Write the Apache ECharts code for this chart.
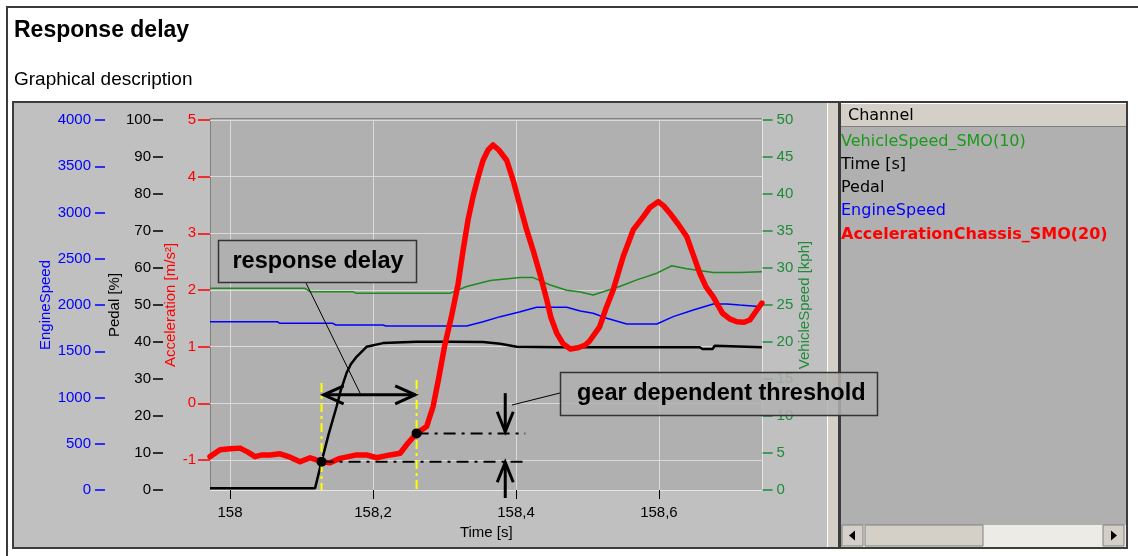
<!DOCTYPE html>
<html>
<head>
<meta charset="utf-8">
<script src="https://cdn.jsdelivr.net/npm/echarts@6/dist/echarts.min.js"></script>
<style>html,body{margin:0;padding:0;background:#fff}#c{width:1138px;height:556px}</style>
</head>
<body>
<div id="c"></div>
<script>
// ---------- DATA ----------
const timeTicks = [158, 158.2, 158.4, 158.6];
const accelTicks = [-1, 0, 1, 2, 3, 4, 5];
const channelNames = ['VehicleSpeed_SMO(10)', 'Time [s]', 'Pedal', 'EngineSpeed', 'AccelerationChassis_SMO(20)'];

const accelPoints = [
  [157.972,-0.94],[157.986,-0.82],[158.000,-0.80],[158.014,-0.79],[158.025,-0.86],[158.035,-0.94],
  [158.045,-0.91],[158.056,-0.91],[158.070,-0.89],[158.084,-0.95],[158.098,-1.03],[158.112,-0.96],
  [158.128,-1.03],[158.140,-1.05],[158.154,-0.97],[158.177,-0.91],[158.191,-0.91],[158.205,-0.96],
  [158.224,-0.91],[158.238,-0.88],[158.249,-0.70],[158.261,-0.53],[158.275,-0.41],[158.284,-0.06],
  [158.292,0.45],[158.300,1.00],[158.310,1.55],[158.319,2.10],[158.326,2.70],[158.333,3.24],
  [158.340,3.65],[158.347,3.99],[158.354,4.29],[158.361,4.47],[158.368,4.56],[158.376,4.47],
  [158.387,4.29],[158.396,3.94],[158.406,3.47],[158.415,3.06],[158.424,2.70],[158.434,2.26],
  [158.443,1.83],[158.449,1.51],[158.457,1.24],[158.466,1.05],[158.476,0.96],[158.487,0.98],
  [158.497,1.03],[158.503,1.10],[158.517,1.35],[158.526,1.68],[158.536,2.00],[158.550,2.59],
  [158.564,3.06],[158.578,3.29],[158.587,3.45],[158.599,3.56],[158.607,3.48],[158.615,3.36],
  [158.627,3.16],[158.639,2.94],[158.648,2.62],[158.657,2.30],[158.666,2.05],[158.676,1.88],
  [158.683,1.72],[158.689,1.59],[158.699,1.49],[158.709,1.44],[158.719,1.43],[158.727,1.47],
  [158.736,1.63],[158.744,1.77]
];

const pedalPoints = [
  [157.972,0.5],[158.119,0.5],[158.128,7.6],[158.138,15.1],[158.149,22.5],[158.155,27.0],
  [158.163,31.6],[158.169,34.0],[158.177,36.0],[158.191,38.7],[158.214,39.7],[158.261,40.1],
  [158.308,40.1],[158.354,40.0],[158.378,39.5],[158.401,38.7],[158.462,38.6],[158.657,38.6],
  [158.661,38.1],[158.675,38.1],[158.678,39.0],[158.744,38.6]
];

const enginePoints = [
  [157.972,1819],[158.066,1819],[158.070,1802],[158.144,1802],[158.148,1784],[158.214,1784],
  [158.218,1773],[158.331,1773],[158.354,1819],[158.378,1874],[158.406,1928],[158.429,1975],
  [158.471,1975],[158.490,1935],[158.508,1910],[158.527,1856],[158.555,1795],[158.597,1795],
  [158.620,1874],[158.648,1946],[158.676,2011],[158.695,2011],[158.713,2000],[158.744,1982]
];

const speedPoints = [
  [157.972,27.26],[158.105,27.26],[158.112,26.8],[158.172,26.8],[158.176,26.6],[158.308,26.6],
  [158.331,27.5],[158.364,28.3],[158.406,28.7],[158.424,28.7],[158.448,27.7],[158.471,27.0],
  [158.490,26.75],[158.508,26.35],[158.522,26.8],[158.545,27.5],[158.569,28.4],[158.597,29.3],
  [158.618,30.3],[158.639,29.9],[158.676,29.4],[158.713,29.4],[158.744,29.5]
];

// annotation values (data units: time [s], acceleration [m/s²])
const delayTimes = [158.128, 158.261];
const delayLevels = [-1.03, -0.53];
const yellowTops = [0.36, 0.41];
const delayArrowLevel = 0.15;
const delayArrowSpan = [158.131, 158.259];
const thresholdLineEnd = 158.413;
const thresholdArrowTime = 158.385;
const downArrow = [0.18, -0.5];
const upArrow = [-1.67, -1.04];

// ---------- CHART ----------
const FONT = '"Liberation Sans", Arial, sans-serif';
const LISTFONT = '"DejaVu Sans", Verdana, sans-serif';
const RED = '#ff0000', BLUE = '#0000ff', GREEN = '#1f8a3a', LINEGREEN = '#1e8a1e';
const chart = echarts.init(document.getElementById('c'), null, {renderer: 'canvas'});

function arrowHead(tip, dir, len, half) {
  const bx = tip[0] - dir[0] * len, by = tip[1] - dir[1] * len;
  const nx = -dir[1], ny = dir[0];
  return {
    type: 'polyline',
    shape: {points: [[bx + nx * half, by + ny * half], tip, [bx - nx * half, by - ny * half]]},
    style: {stroke: '#000', lineWidth: 3, fill: null, lineJoin: 'miter'}
  };
}

function renderAnnotations(params, api) {
  const c = (t, v) => api.coord([t, v]);
  const ch = [];
  const accMin = -1.529;
  delayTimes.forEach((t, i) => {
    const p1 = c(t, yellowTops[i]), p2 = c(t, accMin);
    ch.push({type: 'line', shape: {x1: p1[0], y1: p1[1], x2: p2[0], y2: p2[1]},
      style: {stroke: '#ffff00', lineWidth: 2, lineDash: [9, 4, 3, 4]}});
  });
  delayTimes.forEach((t, i) => {
    const p1 = c(t, delayLevels[i]), p2 = c(thresholdLineEnd, delayLevels[i]);
    ch.push({type: 'line', shape: {x1: p1[0], y1: p1[1], x2: p2[0], y2: p2[1]},
      style: {stroke: '#000', lineWidth: 2, lineDash: [12, 6, 3, 6]}});
  });
  const a1 = c(delayArrowSpan[0], delayArrowLevel), a2 = c(delayArrowSpan[1], delayArrowLevel);
  ch.push({type: 'line', shape: {x1: a1[0], y1: a1[1], x2: a2[0], y2: a2[1]}, style: {stroke: '#000', lineWidth: 3}});
  ch.push(arrowHead(a1, [-1, 0], 20, 9));
  ch.push(arrowHead(a2, [1, 0], 20, 9));
  const d1 = c(thresholdArrowTime, downArrow[0]), d2 = c(thresholdArrowTime, downArrow[1]);
  ch.push({type: 'line', shape: {x1: d1[0], y1: d1[1], x2: d2[0], y2: d2[1]}, style: {stroke: '#000', lineWidth: 3}});
  ch.push(arrowHead(d2, [0, 1], 20, 8));
  const u1 = c(thresholdArrowTime, upArrow[0]), u2 = c(thresholdArrowTime, upArrow[1]);
  ch.push({type: 'line', shape: {x1: u1[0], y1: u1[1], x2: u2[0], y2: u2[1]}, style: {stroke: '#000', lineWidth: 3}});
  ch.push(arrowHead(u2, [0, -1], 20, 8));
  delayTimes.forEach((t, i) => {
    const p = c(t, delayLevels[i]);
    ch.push({type: 'circle', shape: {cx: p[0], cy: p[1], r: 5}, style: {fill: '#000'}});
  });
  return {type: 'group', children: ch};
}

const axisFont = {fontFamily: FONT, fontSize: 15};
const plain = v => String(v);

const option = {
  animation: false,
  backgroundColor: '#ffffff',
  grid: {left: 210, top: 120, width: 552.6, height: 370, containLabel: false},
  xAxis: {
    type: 'value', min: 157.972, max: 158.745,
    axisLine: {show: false, onZero: false},
    axisTick: {show: true, customValues: timeTicks, length: 9, lineStyle: {color: '#000', width: 1}},
    axisLabel: {customValues: timeTicks, margin: 15, color: '#000', ...axisFont,
      formatter: v => String(+(+v).toFixed(1)).replace('.', ',')},
    splitLine: {show: true, lineStyle: {color: '#dadada', width: 1}},
    name: 'Time [s]', nameLocation: 'middle', nameGap: 34,
    nameTextStyle: {color: '#000', ...axisFont}
  },
  yAxis: [
    {
      type: 'value', position: 'left', offset: 0, min: -1.529, max: 5,
      axisLine: {show: false, onZero: false},
      axisTick: {show: true, customValues: accelTicks, length: 12, lineStyle: {color: RED, width: 1.5}},
      axisLabel: {customValues: accelTicks, margin: 14, color: RED, ...axisFont, formatter: plain},
      splitLine: {show: true, lineStyle: {color: '#dadada', width: 1}},
      name: 'Acceleration [m/s²]', nameLocation: 'middle', nameGap: 22,
      nameTextStyle: {color: RED, ...axisFont}
    },
    {
      type: 'value', position: 'left', offset: 47, min: 0, max: 100, interval: 10,
      axisLine: {show: false, onZero: false},
      axisTick: {show: true, length: 10, lineStyle: {color: '#000', width: 1.5}},
      axisLabel: {margin: 12, color: '#000', ...axisFont, formatter: plain},
      splitLine: {show: false},
      name: 'Pedal [%]', nameLocation: 'middle', nameGap: 37,
      nameTextStyle: {color: '#000', ...axisFont}
    },
    {
      type: 'value', position: 'left', offset: 105, min: 0, max: 4000, interval: 500,
      axisLine: {show: false, onZero: false},
      axisTick: {show: true, length: 10, lineStyle: {color: BLUE, width: 1.5}},
      axisLabel: {margin: 14, color: BLUE, ...axisFont, formatter: plain},
      splitLine: {show: false},
      name: 'EngineSpeed', nameLocation: 'middle', nameGap: 46,
      nameTextStyle: {color: BLUE, ...axisFont}
    },
    {
      type: 'value', position: 'right', offset: 0, min: 0, max: 50, interval: 5,
      axisLine: {show: false, onZero: false},
      axisTick: {show: true, length: 10, lineStyle: {color: GREEN, width: 1.5}},
      axisLabel: {margin: 14, color: GREEN, ...axisFont, formatter: plain},
      splitLine: {show: false},
      name: 'VehicleSpeed [kph]', nameLocation: 'middle', nameGap: 33, nameRotate: 90,
      nameTextStyle: {color: GREEN, ...axisFont}
    }
  ],
  series: [
    {name: 'VehicleSpeed_SMO(10)', type: 'line', yAxisIndex: 3, data: speedPoints, showSymbol: false,
      lineStyle: {color: LINEGREEN, width: 1.5}, itemStyle: {color: LINEGREEN}, z: 3},
    {name: 'EngineSpeed', type: 'line', yAxisIndex: 2, data: enginePoints, showSymbol: false,
      lineStyle: {color: BLUE, width: 1.5}, itemStyle: {color: BLUE}, z: 3},
    {name: 'Pedal', type: 'line', yAxisIndex: 1, data: pedalPoints, showSymbol: false,
      lineStyle: {color: '#000', width: 2.5}, itemStyle: {color: '#000'}, z: 4},
    {name: 'AccelerationChassis_SMO(20)', type: 'line', yAxisIndex: 0, data: accelPoints, showSymbol: false,
      lineStyle: {color: RED, width: 5.5, join: 'round', cap: 'round'}, itemStyle: {color: RED}, z: 5},
    {type: 'custom', yAxisIndex: 0, data: [[158.2, 0]], renderItem: renderAnnotations, silent: true, z: 6, clip: false}
  ],
  graphic: {
    elements: [
      {type: 'line', shape: {x1: 6, y1: 7, x2: 1138, y2: 7}, style: {stroke: '#3a3a3a', lineWidth: 2}, z: -100},
      {type: 'line', shape: {x1: 7, y1: 6, x2: 7, y2: 556}, style: {stroke: '#3a3a3a', lineWidth: 2}, z: -100},
      {type: 'text', style: {text: 'Response delay', x: 14, y: 31, font: 'bold 23px ' + FONT, fill: '#000', verticalAlign: 'middle'}, z: -100},
      {type: 'text', style: {text: 'Graphical description', x: 14, y: 80, font: '19px ' + FONT, fill: '#000', verticalAlign: 'middle'}, z: -100},
      {type: 'rect', shape: {x: 13, y: 102, width: 1114, height: 446}, style: {fill: '#c0c0c0', stroke: '#3c3c3c', lineWidth: 2}, z: -100},
      {type: 'rect', shape: {x: 210, y: 118, width: 553, height: 373}, style: {fill: '#b0b0b0'}, z: -90},
      {type: 'line', shape: {x1: 210, y1: 118.5, x2: 763, y2: 118.5}, style: {stroke: '#808080', lineWidth: 1}, z: -89},
      {type: 'line', shape: {x1: 210.5, y1: 118, x2: 210.5, y2: 491}, style: {stroke: '#808080', lineWidth: 1}, z: -89},
      {type: 'line', shape: {x1: 210, y1: 490.5, x2: 763, y2: 490.5}, style: {stroke: '#e6e6e6', lineWidth: 1}, z: -89},
      {type: 'line', shape: {x1: 762.5, y1: 118, x2: 762.5, y2: 491}, style: {stroke: '#e6e6e6', lineWidth: 1}, z: -89},
      {type: 'rect', shape: {x: 827, y: 103, width: 11, height: 444}, style: {fill: '#d4d0c8'}, z: -95},
      {type: 'line', shape: {x1: 827.5, y1: 103, x2: 827.5, y2: 547}, style: {stroke: '#ffffff', lineWidth: 1}, z: -94},
      {type: 'rect', shape: {x: 838, y: 103, width: 3, height: 444}, style: {fill: '#3c3c3c'}, z: -95},
      {type: 'rect', shape: {x: 841, y: 103, width: 285, height: 444}, style: {fill: '#b0b0b0'}, z: -95},
      {type: 'rect', shape: {x: 841, y: 103, width: 285, height: 23}, style: {fill: '#d4d0c8'}, z: -94},
      {type: 'line', shape: {x1: 841, y1: 126.5, x2: 1126, y2: 126.5}, style: {stroke: '#808080', lineWidth: 1}, z: -93},
      {type: 'line', shape: {x1: 841, y1: 103.5, x2: 1126, y2: 103.5}, style: {stroke: '#ffffff', lineWidth: 1}, z: -93},
      {type: 'text', style: {text: 'Channel', x: 848, y: 116, font: '16px ' + LISTFONT, fill: '#000', verticalAlign: 'middle'}, z: -93},
      {type: 'rect', shape: {x: 842, y: 525, width: 284, height: 22}, style: {fill: '#ecebe6'}, z: -94},
      {type: 'rect', shape: {x: 842, y: 525, width: 21, height: 21}, style: {fill: '#d4d0c8', stroke: '#808080', lineWidth: 1}, z: -93},
      {type: 'rect', shape: {x: 865, y: 525, width: 118, height: 21}, style: {fill: '#d4d0c8', stroke: '#808080', lineWidth: 1}, z: -93},
      {type: 'rect', shape: {x: 1103, y: 525, width: 21, height: 21}, style: {fill: '#d4d0c8', stroke: '#808080', lineWidth: 1}, z: -93},
      {type: 'polygon', shape: {points: [[849, 535.5], [855, 530.5], [855, 540.5]]}, style: {fill: '#000'}, z: -92},
      {type: 'polygon', shape: {points: [[1117, 535.5], [1111, 530.5], [1111, 540.5]]}, style: {fill: '#000'}, z: -92},
      {type: 'text', style: {text: channelNames[0], x: 841, y: 141.5, font: '16px ' + LISTFONT, fill: '#1a9a1a', verticalAlign: 'middle'}, z: -93},
      {type: 'text', style: {text: channelNames[1], x: 841, y: 164.5, font: '16px ' + LISTFONT, fill: '#000', verticalAlign: 'middle'}, z: -93},
      {type: 'text', style: {text: channelNames[2], x: 841, y: 187.5, font: '16px ' + LISTFONT, fill: '#000', verticalAlign: 'middle'}, z: -93},
      {type: 'text', style: {text: channelNames[3], x: 841, y: 210.5, font: '16px ' + LISTFONT, fill: '#0000ff', verticalAlign: 'middle'}, z: -93},
      {type: 'text', style: {text: channelNames[4], x: 841, y: 234.5, font: 'bold 16px ' + LISTFONT, fill: '#ff0000', verticalAlign: 'middle'}, z: -93},
      {type: 'line', shape: {x1: 306, y1: 283, x2: 360, y2: 393}, style: {stroke: '#000', lineWidth: 1}, z: 50},
      {type: 'rect', shape: {x: 218.5, y: 240.5, width: 198, height: 42}, style: {fill: '#b0b0b0', stroke: '#333', lineWidth: 1.5}, z: 50},
      {type: 'text', style: {text: 'response delay', x: 318, y: 262, font: 'bold 23.5px ' + FONT, fill: '#000', align: 'center', verticalAlign: 'middle'}, z: 51},
      {type: 'line', shape: {x1: 560, y1: 393, x2: 512, y2: 405}, style: {stroke: '#000', lineWidth: 1}, z: 50},
      {type: 'rect', shape: {x: 560.5, y: 372.5, width: 317, height: 43}, style: {fill: 'rgba(176,176,176,0.85)', stroke: '#333', lineWidth: 1.5}, z: 50},
      {type: 'text', style: {text: 'gear dependent threshold', x: 577, y: 394, font: 'bold 23.5px ' + FONT, fill: '#000', verticalAlign: 'middle'}, z: 51}
    ]
  }
};
chart.setOption(option);
</script>
</body>
</html>
